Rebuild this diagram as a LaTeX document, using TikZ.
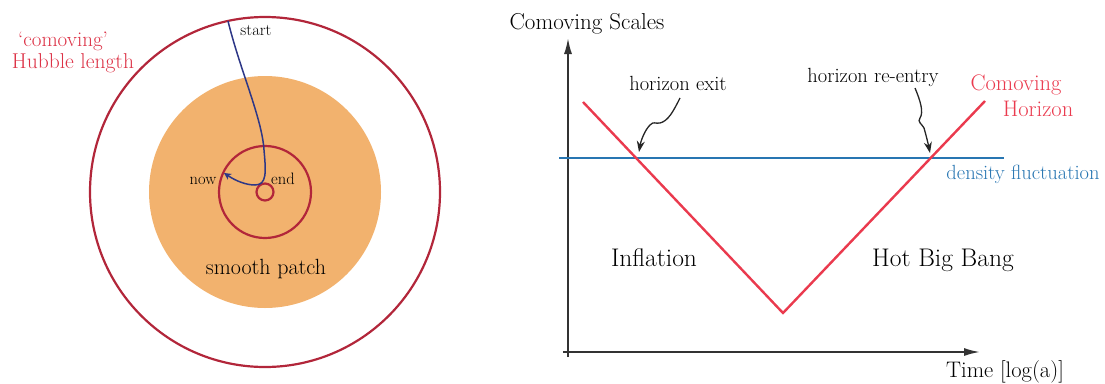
\documentclass[tikz,border=0pt]{standalone}
\usepackage{fontspec}
\usetikzlibrary{arrows.meta}
\definecolor{circred}{RGB}{178,38,58}
\definecolor{txtred}{RGB}{220,50,70}
\definecolor{vred}{RGB}{234,58,78}
\definecolor{patch}{RGB}{242,178,110}
\definecolor{navy}{RGB}{45,55,135}
\definecolor{fluct}{RGB}{40,118,178}
\newcommand{\fs}[1]{\fontsize{#1}{#1}\selectfont}
\tikzset{
  ring/.style={draw=circred, line width=2.2pt},
  axis/.style={draw=black!80, line width=1.8pt, -{Latex[length=16pt,width=8pt]}},
  squiggle/.style={draw=black!85, line width=1.3pt, -{Stealth[length=11pt,width=8pt]}},
  lbl/.style={inner sep=0pt, anchor=base},
}
\begin{document}
\begin{tikzpicture}[x=1pt,y=-1pt]
\useasboundingbox (0,0) rectangle (1105,383);
% ---------- left panel ----------
\coordinate (c) at (265,192);
\fill[patch] (c) circle[radius=116];
\draw[ring] (c) circle[radius=175];
\draw[ring] (c) circle[radius=46];
\draw[ring] (c) circle[radius=8.5];
\coordinate (start) at (228,21);
\coordinate (nowpt) at (224,173);
\draw[navy, line width=1.5pt, -{Stealth[length=7pt,width=7pt,inset=2pt]}]
  (start) .. controls (240,70) and (262,118) .. (264,150)
  .. controls (266,172) and (267,185) .. (255,185)
  .. controls (246,185) and (236,181) .. (nowpt);
\node[lbl] (tstart) at (256,35) {\fs{16.5}start};
\node[lbl] (tnow) at (203,184) {\fs{16.5}now};
\node[lbl] (tend) at (283,184) {\fs{16.5}end};
\node[lbl] (tsmooth) at (266,274) {\fs{22}smooth patch};
\node[lbl, text=txtred] (tcom) at (63,46) {\fs{21}`comoving'};
\node[lbl, text=txtred] (thub) at (73,68) {\fs{21.5}Hubble length};
% ---------- right panel ----------
\coordinate (o) at (568,352);
\coordinate (ytop) at (568,38);
\coordinate (ybot) at (568,357);
\coordinate (xl) at (563,352);
\coordinate (xr) at (980,352);
\draw[axis] (ybot) -- (ytop);
\draw[axis] (xl) -- (xr);
\coordinate (dl) at (559,158);
\coordinate (dr) at (1004,158);
\draw[fluct, line width=2.4pt] (dl) -- (dr);
\coordinate (vl) at (583,102);
\coordinate (vb) at (783,313);
\coordinate (vr) at (985,101);
\draw[vred, line width=2.4pt] (vl) -- (vb) -- (vr);
\node[lbl] (tscales) at (587,29) {\fs{23}Comoving Scales};
\node[lbl] (texit) at (678,90) {\fs{20.5}horizon exit};
\node[lbl] (treentry) at (873,82) {\fs{20.5}horizon re-entry};
\node[lbl, text=vred] (tcomh1) at (1016,90) {\fs{22.5}Comoving};
\node[lbl, text=vred] (tcomh2) at (1038,116) {\fs{22.5}Horizon};
\node[lbl, text=fluct] (tfluct) at (1023,179) {\fs{20.5}density fluctuation};
\node[lbl] (tinfl) at (654,266) {\fs{25.5}Inflation};
\node[lbl] (thot) at (943,266) {\fs{25.5}Hot Big Bang};
\node[lbl] (ttime) at (1005,377) {\fs{22.5}Time [log(a)]};
\coordinate (exittip) at (639,152);
\coordinate (reentip) at (930,153);
\draw[squiggle] (680,98) .. controls (673,112) and (668,121) .. (660,123)
  .. controls (655,124) and (654,121) .. (650,125)
  .. controls (645,130) and (641,140) .. (exittip);
\draw[squiggle] (915,88) .. controls (920,100) and (924,112) .. (920,118)
  .. controls (917,122) and (922,124) .. (924,128)
  .. controls (926,135) and (928,143) .. (reentip);
\end{tikzpicture}
\end{document}
